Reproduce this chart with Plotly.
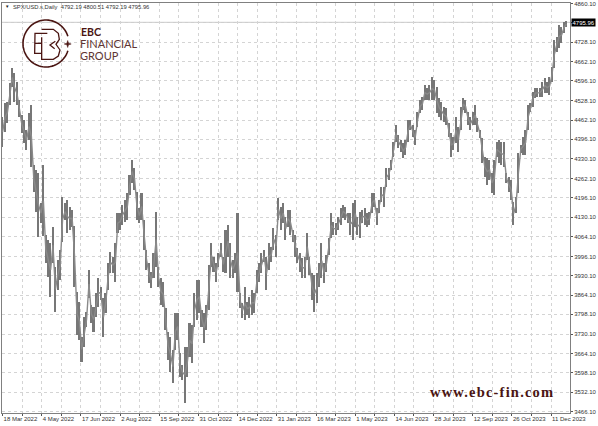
import numpy as np
import plotly.graph_objects as go

# Every second daily session
highs = [4472,4520,4523,4588,4640,4623,4592,4530,4479,4462,4428,4486,4513,4308,4291,4281,4178,4308,4069,4052,
4042,4096,3960,3984,4018,4199,4178,4189,4165,4155,4100,3874,3840,3721,3789,3806,3950,3830,3823,3871,
3922,3891,3854,3871,3973,4011,3994,4042,4144,4144,4172,4189,4213,4274,4325,4298,4216,4161,4213,4120,
4018,3973,3943,4008,4148,3960,3922,3909,3820,3738,3721,3676,3803,3803,3666,3625,3686,3686,3768,3762,
3871,3915,3915,3813,3803,3830,3967,4042,3994,3973,4008,4042,3994,4086,4103,4042,3984,4008,4144,3871,
3837,3891,3840,3857,3881,3871,3950,3973,4008,4018,3994,4042,4028,4093,4069,4196,4165,4178,4131,4155,
4155,4086,4069,4025,4008,3991,3994,4076,3994,3939,3932,3939,3973,4042,3973,4001,4059,4144,4114,4110,
4131,4161,4172,4165,4144,4144,4178,4189,4131,4148,4155,4161,4144,4148,4213,4213,4161,4189,4233,4233,
4298,4298,4325,4387,4445,4411,4394,4383,4394,4462,4462,4445,4428,4489,4530,4540,4582,4571,4582,4609,
4599,4575,4537,4523,4506,4503,4452,4418,4404,4472,4438,4506,4537,4530,4489,4472,4489,4513,4469,4428,
4400,4336,4332,4325,4281,4325,4387,4394,4387,4387,4281,4267,4257,4182,4199,4350,4377,4404,4428,4513,
4520,4558,4571,4571,4571,4592,4606,4592,4609,4643,4735,4746,4787,4780,4797,4800]
lows = [4370,4421,4452,4513,4575,4523,4513,4472,4418,4383,4359,4394,4300,4216,4148,4062,4110,4065,3973,3926,
3857,3973,3806,3881,3915,4045,4120,4076,4086,4096,3891,3727,3710,3635,3686,3755,3854,3768,3738,3789,
3823,3847,3721,3803,3881,3939,3939,3909,4076,4086,4103,4114,4120,4206,4247,4223,4120,4110,4120,4018,
3950,3905,3888,3922,3960,3891,3830,3823,3745,3642,3601,3563,3676,3710,3584,3574,3495,3584,3652,3632,
3755,3779,3803,3755,3700,3745,3813,3960,3943,3909,3960,3994,3943,3939,3994,3922,3922,3939,3875,3820,
3786,3779,3796,3786,3796,3803,3871,3909,3939,3977,3881,3950,3977,4018,3994,4120,4086,4110,4052,4096,
4069,4045,3994,3973,3943,3922,3922,3984,3932,3847,3806,3837,3891,3922,3905,3943,4001,4059,4069,4069,
4086,4103,4127,4120,4110,4069,4052,4096,4069,4059,4110,4103,4096,4103,4144,4165,4103,4144,4182,4165,
4233,4257,4291,4336,4387,4366,4353,4332,4342,4387,4428,4404,4377,4438,4486,4496,4530,4530,4530,4530,
4530,4486,4472,4462,4455,4445,4404,4336,4359,4383,4353,4428,4496,4486,4445,4428,4445,4445,4421,4401,
4315,4267,4240,4257,4213,4206,4336,4315,4308,4301,4247,4216,4189,4103,4144,4213,4349,4342,4342,4428,
4489,4506,4537,4540,4540,4540,4554,4554,4547,4592,4640,4694,4708,4725,4759,4780]
session_index = list(range(0, 2 * len(highs), 2))

price_ticks = [3466.10,3532.10,3598.10,3664.10,3730.10,3798.10,3864.10,3930.10,3996.10,4064.10,4130.10,
               4196.10,4262.10,4330.10,4396.10,4462.10,4528.10,4596.10,4662.10,4728.10,4794.10,4860.10]
date_labels = ["18 Mar 2022","4 May 2022","17 Jun 2022","2 Aug 2022","15 Sep 2022","31 Oct 2022",
               "14 Dec 2022","31 Jan 2023","16 Mar 2023","1 May 2023","14 Jun 2023","28 Jul 2023",
               "12 Sep 2023","26 Oct 2023","11 Dec 2023"]
last_price = 4795.96
header = "SPX/USD.s,Daily  4792.19 4800.51 4792.19 4795.96"

W, H = 598, 426
L, R, T, B = 2, 28, 3, 13
PW, PH = W - L - R, H - T - B
MAROON = "#4a1512"
GREY = "#777777"

def px(x): return (x - L) / PW
def py(y): return 1 - (y - T) / PH

# Grid: one vertical every 16.33 sessions; every second one carries a date
step = 16.33
grid_x = [i * step for i in range(29)]
grid_text = [date_labels[i // 2] if i % 2 == 0 and i // 2 < len(date_labels) else "" for i in range(29)]

fig = go.Figure()
fig.add_trace(go.Scatter(
    x=session_index,
    y=[(h + l) / 2 for h, l in zip(highs, lows)],
    mode="lines",
    line=dict(color="#8a8a8a", width=1.4),
    hoverinfo="skip",
))
fig.add_trace(go.Bar(
    x=session_index,
    base=lows,
    y=[h - l for h, l in zip(highs, lows)],
    width=1.3,
    marker=dict(color=GREY, line=dict(width=0)),
    hoverinfo="skip",
))

def path_shape(points, width=1.5, closed=False, fill=None):
    d = "M " + " L ".join(f"{px(a):.5f},{py(b):.5f}" for a, b in points)
    if closed:
        d += " Z"
    s = dict(type="path", xref="paper", yref="paper", path=d, layer="above",
             line=dict(color=MAROON, width=width))
    if fill:
        s["fillcolor"] = fill
    return s

shapes = []
# Last-price line
shapes.append(dict(type="line", xref="paper", yref="y", x0=0, x1=1, y0=last_price, y1=last_price,
                   line=dict(color="#c4c4c4", width=1), layer="below"))
# Logo ring with gap at the right
ring = [(46 + 23 * np.cos(a), 43.5 + 23.5 * np.sin(a)) for a in np.radians(np.linspace(18, 342, 70))]
shapes.append(path_shape(ring, 1.6))
# Logo letters (zoomed coordinates / 3)
z = lambda pts: [(a / 3, b / 3) for a, b in pts]
shapes.append(path_shape(z([(142,100),(105,100),(104,160),(125,160)]), 1.3))
shapes.append(path_shape(z([(105,130),(124,130)]), 1.3))
bowl = [(125,112),(125,178),(160,178),(175,168),(180,150),(168,133),(178,118),(175,100),(160,88),(125,88)]
shapes.append(path_shape(z(bowl), 1.3))
shapes.append(path_shape(z([(166,124),(150,135),(164,146)]), 1.3))
# Four-point star beside the ring
star = [(67.7,40.5),(68.5,43.2),(71.2,44),(68.5,44.8),(67.7,47.5),(66.9,44.8),(64.2,44),(66.9,43.2)]
shapes.append(path_shape(star, 0.5, closed=True, fill=MAROON))

fig.update_layout(
    width=W, height=H, autosize=False, showlegend=False, bargap=0,
    paper_bgcolor="white", plot_bgcolor="white",
    margin=dict(l=L, r=R, t=T, b=B, pad=0),
    font=dict(family="Liberation Sans", size=6, color="#333333"),
    shapes=shapes,
    xaxis=dict(
        range=[-0.5, 473], tickmode="array", tickvals=grid_x, ticktext=grid_text,
        showgrid=True, gridcolor="#d4d4d4", griddash="3px,3px", gridwidth=1, zeroline=False,
        showline=True, linecolor="#808080", linewidth=1, mirror=True,
        ticks="outside", ticklen=2, tickcolor="#555555", tickwidth=1,
        ticklabelposition="outside right", tickangle=0, automargin=False,
        tickfont=dict(size=6, color="#333333"),
    ),
    yaxis=dict(
        side="right", range=[3461, 4862], tickmode="array", tickvals=price_ticks,
        ticktext=[f"{v:.2f}" if v != 4794.10 else "" for v in price_ticks],
        showgrid=True, gridcolor="#d4d4d4", griddash="3px,3px", gridwidth=1, zeroline=False,
        showline=True, linecolor="#808080", linewidth=1, mirror=True,
        ticks="outside", ticklen=2, tickcolor="#555555", tickwidth=1, automargin=False,
        tickfont=dict(size=6, color="#333333"),
    ),
    annotations=[
        dict(text=header, xref="paper", yref="paper", x=px(11), y=py(6.5), xanchor="left", yanchor="middle",
             showarrow=False, font=dict(size=5.8, color="#333333")),
        dict(text="▼", xref="paper", yref="paper", x=px(3), y=py(6.5), xanchor="left", yanchor="middle",
             showarrow=False, font=dict(size=4.5, color="#222222")),
        dict(text=f"{last_price:.2f}", xref="paper", yref="y", x=1, y=last_price, xanchor="left", yanchor="middle",
             showarrow=False, bgcolor="#000000", font=dict(size=6, color="#ffffff"), xshift=1,
             borderpad=0.5),
        dict(text="<b>EBC</b>", xref="paper", yref="paper", x=px(79), y=py(32), xanchor="left", yanchor="middle",
             showarrow=False, font=dict(family="Lato", size=10.5, color=MAROON)),
        dict(text="FINANCIAL", xref="paper", yref="paper", x=px(78.5), y=py(44), xanchor="left", yanchor="middle",
             showarrow=False, font=dict(family="Lato", size=11, color="#5e3533")),
        dict(text="GROUP", xref="paper", yref="paper", x=px(78.5), y=py(55.5), xanchor="left", yanchor="middle",
             showarrow=False, font=dict(family="Lato", size=11, color="#5e3533")),
        dict(text="<b>www.ebc-fin.com</b>", xref="paper", yref="paper", x=px(437), y=py(392), xanchor="left", yanchor="middle",
             showarrow=False, font=dict(family="Liberation Serif", size=14.5, color=MAROON)),
    ],
)
spacing_js = """
document.body.style.margin='0';document.body.style.overflow='hidden';
function spaceOut(){document.querySelectorAll('.annotation-text').forEach(function(t){
  if(t.textContent.indexOf('www.')===0){t.style.letterSpacing='1.2px';}
});}
spaceOut();setTimeout(spaceOut,60);
"""
fig.write_html("out.html", post_script=spacing_js, config={"displayModeBar": False})
